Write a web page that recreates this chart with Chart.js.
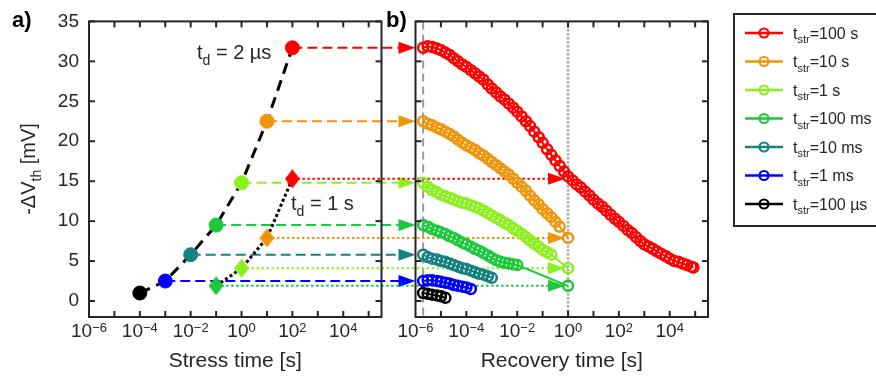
<!DOCTYPE html>
<html>
<head>
<meta charset="utf-8">
<title>Threshold voltage shift: stress and recovery</title>
<script src="https://cdn.jsdelivr.net/npm/chart.js@4.4.1/dist/chart.umd.min.js"></script>
<style>
  html, body { margin: 0; padding: 0; background: #fff; }
  #wrap { width: 876px; height: 380px; }
</style>
</head>
<body>
<div id="wrap"><canvas id="chart" width="876" height="380"></canvas></div>
<script>
"use strict";

// stress times, shortest first, and -dVth read 2 us after the end of stress
const stressTimes = [1e-4, 1e-3, 1e-2, 1e-1, 1, 10, 100];
const stressNames = ["100 µs", "1 ms", "10 ms", "100 ms", "1 s", "10 s", "100 s"];
const shiftAt2us = [1.0, 2.5, 5.8, 9.5, 14.8, 22.5, 31.7];

// the four longest stresses read again 1 s after the end of stress
const delayedTimes = [1e-1, 1, 10, 100];
const shiftAt1s = [1.9, 4.1, 7.9, 15.3];

// recovery time grid [s] shared by all traces
const recGrid = [2e-6, 3e-6, 4.5e-6, 7e-6, 1e-5, 1.5e-5, 2.2e-5, 3.2e-5, 4.7e-5, 7e-5,
  1e-4, 1.5e-4, 2.2e-4, 3.2e-4, 4.7e-4, 7e-4, 1e-3, 1.5e-3, 2.2e-3, 3.2e-3,
  4.7e-3, 7e-3, 1e-2, 1.5e-2, 2.2e-2, 3.2e-2, 4.7e-2, 7e-2, 0.1, 0.15,
  0.22, 0.32, 0.47, 0.7, 1, 1.5, 2.2, 3.2, 4.7, 7,
  10, 15, 22, 32, 47, 70, 100, 150, 220, 320,
  470, 700, 1000, 1500, 2200, 3200, 4700, 7000, 1e4, 1.5e4,
  2.2e4, 3.2e4, 4.7e4, 7e4, 8.5e4];

// -dVth [mV] during recovery, one value per grid time (null = not measured)
const rec100us = [1.0, 0.9, 0.8, 0.7, 0.6, 0.4];
const rec1ms = [2.5, 2.6, 2.6, 2.5, 2.4, 2.3, 2.2, 2.0, 1.9, 1.8, 1.7, 1.5];
const rec10ms = [5.8, 5.5, 5.3, 5.2, 5.0, 4.9, 4.7, 4.5, 4.3, 4.1, 4.0, 3.8, 3.6, 3.4, 3.3, 3.1, 2.9];
const rec100ms = [9.5, 9.3, 9.0, 8.8, 8.6, 8.4, 8.1, 7.9, 7.6, 7.3, 7.1, 6.8, 6.5, 6.3, 6.0, 5.7,
  5.4, 5.1, 4.9, 4.8, 4.7, 4.6, 4.5, null, null, null, null, null, null, null, null, null, null, null, 1.9];
const rec1s = [14.8, 14.3, 13.9, 13.6, 13.3, 13.1, 12.9, 12.7, 12.5, 12.3, 12.2, 12.0, 11.8, 11.6, 11.3, 11.0,
  10.7, 10.4, 10.1, 9.8, 9.5, 9.1, 8.8, 8.4, 8.0, 7.6, 7.2, 6.8, 6.4, 6.1, 5.8, null, null, null, 4.1];
const rec10s = [22.5, 22.2, 22.0, 21.7, 21.5, 21.2, 20.9, 20.6, 20.2, 19.8, 19.5, 19.2, 18.9, 18.5, 18.2, 17.8,
  17.4, 17.0, 16.6, 16.2, 15.8, 15.3, 14.8, 14.3, 13.8, 13.2, 12.6, 12.1, 11.5, 11.0, 10.5, 9.9, 9.3, null, 7.9];
const rec100s = [31.7, 31.9, 31.8, 31.6, 31.4, 31.1, 30.8, 30.4, 30.0, 29.6, 29.3, 28.9, 28.5, 28.1, 27.7, 27.1,
  26.6, 26.1, 25.6, 25.2, 24.7, 24.2, 23.7, 23.1, 22.5, 21.9, 21.2, 20.5, 19.8, 19.0, 18.3, 17.6, 16.9, 16.2,
  15.6, 15.1, 14.6, 14.2, 13.7, 13.2, 12.7, 12.2, 11.8, 11.3, 10.8, 10.3, 9.9, 9.4, 8.9, 8.5, 8.0, 7.5, 7.1,
  6.8, 6.5, 6.2, 5.9, 5.6, 5.3, 5.0, 4.9, 4.7, 4.5, 4.3, 4.2];

// axis ticks
const yTicks = [0, 5, 10, 15, 20, 25, 30, 35];
const decadeTicks = [-5, -4, -3, -2, -1, 0, 1, 2, 3, 4, 5];
const labelledDecades = [-6, -4, -2, 0, 2, 4];

const seriesColors = ["#000000", "#0000ff", "#178080", "#1ec83c", "#8cf01e", "#f0940a", "#ff0000"];
const recoveryTraces = [rec100us, rec1ms, rec10ms, rec100ms, rec1s, rec10s, rec100s];

const FONT = '"Liberation Sans", Arial, Helvetica, sans-serif';
const INK = "#262626";
const X_MIN = 1e-6;
const X_MAX = 3.2e5;
const PANEL_GAP = 34;
const TICK = 6;

function points(xs, ys) {
  return ys.map((v, i) => ({ x: xs[i], y: v }));
}

// filled diamond, a little taller than wide, used as point image
function diamond(color) {
  const c = document.createElement("canvas");
  c.width = 15; c.height = 19;
  const g = c.getContext("2d");
  g.fillStyle = color;
  g.beginPath();
  g.moveTo(7.5, 0); g.lineTo(15, 9.5); g.lineTo(7.5, 19); g.lineTo(0, 9.5);
  g.closePath(); g.fill();
  return c;
}

// text made of runs, some of them sub- or superscript
function richText(ctx, x, y, pieces, size, align) {
  const small = Math.round(size * 0.68);
  let total = 0;
  pieces.forEach(p => {
    p.size = (p.sub || p.sup) ? small : size;
    ctx.font = (p.bold ? "bold " : "") + p.size + "px " + FONT;
    p.w = ctx.measureText(p.t).width;
    total += p.w;
  });
  let cx = align === "center" ? x - total / 2 : x;
  ctx.textAlign = "left";
  ctx.textBaseline = "alphabetic";
  pieces.forEach(p => {
    ctx.font = (p.bold ? "bold " : "") + p.size + "px " + FONT;
    const dy = p.sub ? size * 0.3 : p.sup ? -size * 0.28 : 0;
    ctx.fillText(p.t, cx, y + dy);
    cx += p.w;
  });
}

function segment(ctx, x0, y0, x1, y1) {
  ctx.beginPath(); ctx.moveTo(x0, y0); ctx.lineTo(x1, y1); ctx.stroke();
}

function arrow(ctx, x0, x1, y, color, dash) {
  const head = 17, half = 6;
  ctx.strokeStyle = color;
  ctx.lineWidth = 2;
  ctx.setLineDash(dash);
  segment(ctx, x0, y, x1 - head + 1, y);
  ctx.setLineDash([]);
  ctx.fillStyle = color;
  ctx.beginPath();
  ctx.moveTo(x1, y); ctx.lineTo(x1 - head, y - half); ctx.lineTo(x1 - head, y + half);
  ctx.closePath(); ctx.fill();
}

const panels = {
  id: "panels",
  // put the two time axes side by side with a gap between them
  afterLayout(chart) {
    const area = chart.chartArea;
    const w = (area.right - area.left - PANEL_GAP) / 2;
    const xa = chart.scales.xa, xb = chart.scales.xb;
    xa.left = area.left; xa.right = area.left + w; xa.width = w;
    xb.left = area.right - w; xb.right = area.right; xb.width = w;
    xa.configure(); xb.configure();
  },
  beforeDatasetsDraw(chart) {
    const { ctx, chartArea: area } = chart;
    const { xa, xb, y } = chart.scales;
    ctx.save();
    // 2 us and 1 s marks in the recovery panel
    ctx.strokeStyle = "#9b9b9b";
    ctx.lineWidth = 2;
    ctx.setLineDash([8, 5]);
    const x2us = xb.getPixelForValue(2e-6);
    segment(ctx, x2us, area.top, x2us, area.bottom);
    ctx.setLineDash([2, 2]);
    ctx.lineWidth = 2.5;
    const x1s = xb.getPixelForValue(1);
    segment(ctx, x1s, area.top, x1s, area.bottom);

    // dashed arrows: 2 us value handed to the start of each recovery trace
    const startPx = xb.getPixelForValue(X_MIN);
    for (let i = 1; i < stressTimes.length; i++) {
      arrow(ctx, xa.getPixelForValue(stressTimes[i]), startPx,
        y.getPixelForValue(shiftAt2us[i]), seriesColors[i], [10, 5]);
    }
    // dotted arrows: 1 s value handed to t = 1 s
    delayedTimes.forEach((t, i) => {
      arrow(ctx, xa.getPixelForValue(t), x1s - 3,
        y.getPixelForValue(shiftAt1s[i]), seriesColors[i + 3], [2.5, 2.5]);
    });
    ctx.restore();
  },
  afterDraw(chart) {
    const { ctx, chartArea: area } = chart;
    const { xa, xb, y } = chart.scales;
    ctx.save();
    ctx.setLineDash([]);

    // boxes, inward ticks and decade labels for both panels
    [xa, xb].forEach(s => {
      ctx.strokeStyle = INK;
      ctx.lineWidth = 2;
      ctx.strokeRect(s.left, area.top, s.right - s.left, area.bottom - area.top);
      decadeTicks.forEach(e => {
        const px = s.getPixelForValue(Math.pow(10, e));
        segment(ctx, px, area.bottom, px, area.bottom - TICK);
        segment(ctx, px, area.top, px, area.top + TICK);
      });
      yTicks.forEach(v => {
        const py = y.getPixelForValue(v);
        segment(ctx, s.left, py, s.left + TICK, py);
        segment(ctx, s.right, py, s.right - TICK, py);
      });
      ctx.fillStyle = INK;
      labelledDecades.forEach(e => {
        const px = s.getPixelForValue(Math.pow(10, e));
        richText(ctx, px, area.bottom + 20,
          [{ t: "10" }, { t: String(e).replace("-", "\u2212"), sup: true }], 19, "center");
      });
    });

    // axis titles
    ctx.fillStyle = INK;
    richText(ctx, (xa.left + xa.right) / 2, area.bottom + 50, [{ t: "Stress time [s]" }], 21, "center");
    richText(ctx, (xb.left + xb.right) / 2, area.bottom + 50, [{ t: "Recovery time [s]" }], 21, "center");
    ctx.save();
    ctx.translate(35, 169);
    ctx.rotate(-Math.PI / 2);
    richText(ctx, 0, 0, [{ t: "-\u0394V" }, { t: "th", sub: true }, { t: " [mV]" }], 20, "center");
    ctx.restore();

    // panel letters and delay labels
    ctx.fillStyle = "#000";
    richText(ctx, 12, 27, [{ t: "a)", bold: true }], 22, "left");
    richText(ctx, 386, 27, [{ t: "b)", bold: true }], 22, "left");
    ctx.fillStyle = INK;
    richText(ctx, 197, 59, [{ t: "t" }, { t: "d", sub: true }, { t: " = 2 µs" }], 20, "left");
    richText(ctx, 291, 210, [{ t: "t" }, { t: "d", sub: true }, { t: " = 1 s" }], 20, "left");

    // legend, longest stress on top
    ctx.fillStyle = "#fff";
    ctx.fillRect(734, 14, 150, 212);
    ctx.strokeStyle = INK;
    ctx.lineWidth = 2;
    ctx.strokeRect(734, 14, 150, 212);
    for (let k = 0; k < stressNames.length; k++) {
      const i = stressNames.length - 1 - k;
      const ly = 33 + k * 28.5;
      ctx.strokeStyle = seriesColors[i];
      ctx.lineWidth = 2.5;
      segment(ctx, 745, ly, 783, ly);
      ctx.lineWidth = 2.2;
      ctx.beginPath(); ctx.arc(764, ly, 4.5, 0, Math.PI * 2); ctx.stroke();
      ctx.fillStyle = INK;
      richText(ctx, 793, ly + 5.5, [{ t: "t" }, { t: "str", sub: true }, { t: "=" + stressNames[i] }], 16, "left");
    }
    ctx.restore();
  }
};

// recovery traces (panel b), open circles joined by a line
const recoverySets = recoveryTraces.map((trace, i) => ({
  data: points(recGrid, trace),
  xAxisID: "xb",
  yAxisID: "y",
  showLine: true,
  spanGaps: true,
  borderColor: seriesColors[i],
  borderWidth: 2,
  pointRadius: 5,
  pointBorderWidth: 2.5,
  pointBorderColor: seriesColors[i],
  pointBackgroundColor: "rgba(0,0,0,0)"
})).reverse();

const stressSets = [
  {
    // readings 2 us after stress
    data: points(stressTimes, shiftAt2us),
    xAxisID: "xa", yAxisID: "y",
    pointStyle: "circle",
    pointRadius: 7,
    pointBorderWidth: 1,
    pointBackgroundColor: seriesColors,
    pointBorderColor: seriesColors
  },
  {
    // readings 1 s after stress
    data: points(delayedTimes, shiftAt1s),
    xAxisID: "xa", yAxisID: "y",
    pointStyle: seriesColors.slice(3).map(diamond),
    pointRadius: 8
  },
  {
    data: points(stressTimes, shiftAt2us),
    xAxisID: "xa", yAxisID: "y",
    showLine: true,
    borderColor: "#000",
    borderWidth: 3,
    borderDash: [11, 7],
    pointRadius: 0
  },
  {
    data: points(delayedTimes, shiftAt1s),
    xAxisID: "xa", yAxisID: "y",
    showLine: true,
    borderColor: "#000",
    borderWidth: 3,
    borderDash: [3, 2.5],
    pointRadius: 0
  }
];

const timeAxis = {
  type: "logarithmic",
  axis: "x",
  position: "bottom",
  min: X_MIN,
  max: X_MAX,
  display: false
};

new Chart(document.getElementById("chart"), {
  type: "scatter",
  data: { datasets: stressSets.concat(recoverySets) },
  options: {
    responsive: false,
    animation: false,
    events: [],
    layout: { padding: { left: 0, top: 16, right: 168, bottom: 63 } },
    scales: {
      xa: Object.assign({}, timeAxis),
      xb: Object.assign({}, timeAxis),
      y: {
        type: "linear",
        position: "left",
        min: -2,
        max: 35,
        afterBuildTicks(s) { s.ticks = yTicks.map(v => ({ value: v })); },
        afterFit(s) { s.width = 89; },
        ticks: { color: INK, padding: 10, font: { family: FONT, size: 19 } },
        grid: { display: false, drawTicks: false },
        border: { display: false }
      }
    },
    plugins: {
      legend: { display: false },
      tooltip: { enabled: false }
    }
  },
  plugins: [panels]
});
</script>
</body>
</html>
